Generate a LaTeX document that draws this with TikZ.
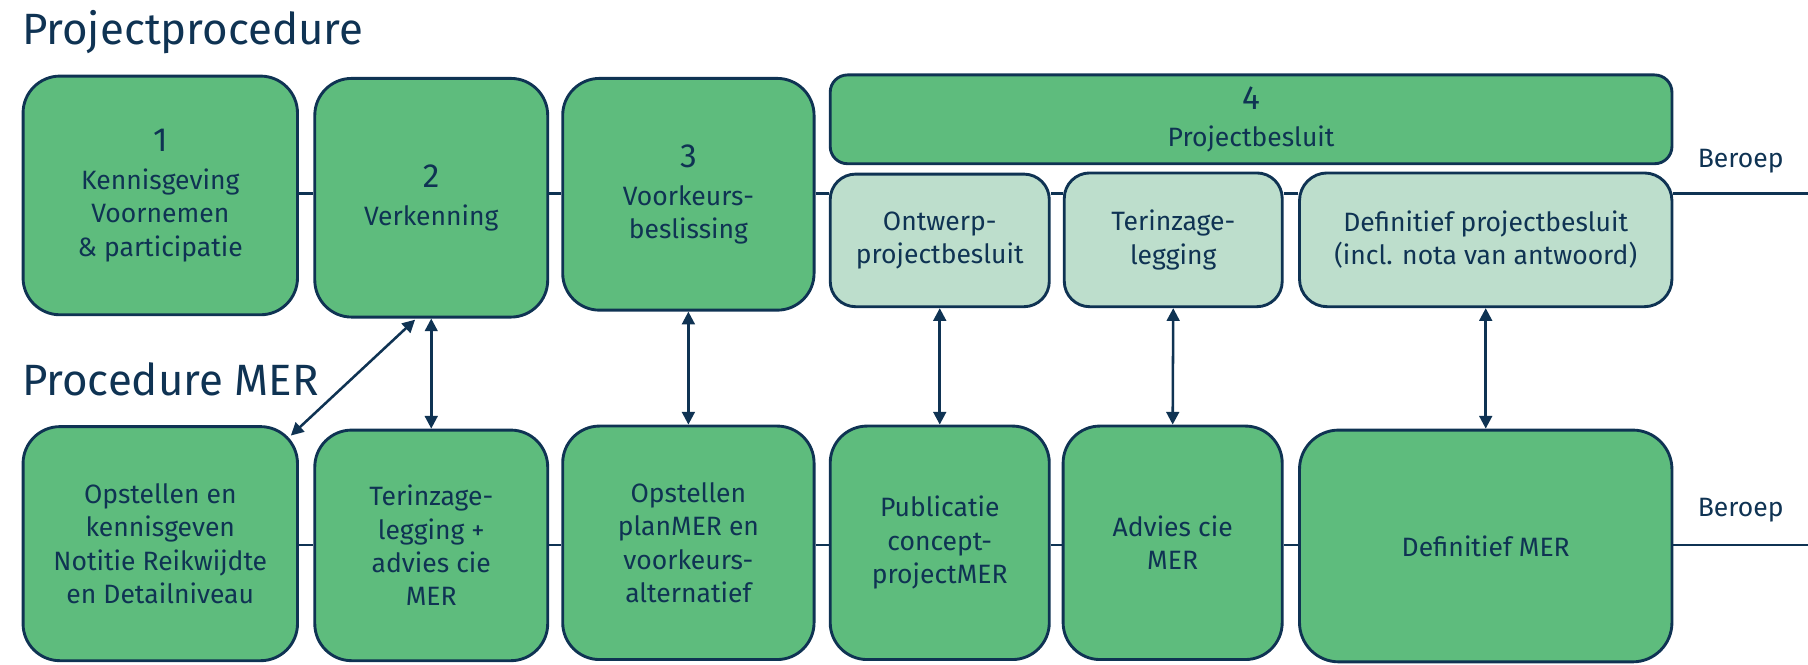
\documentclass[tikz,border=0pt]{standalone}
\usepackage{fontspec}
\setmainfont{Fira Sans}
\usetikzlibrary{arrows.meta,calc}
\definecolor{navy}{HTML}{0F3353}
\definecolor{gr}{HTML}{5EBC7D}
\definecolor{lgr}{HTML}{BDDECC}
\begin{document}
\begin{tikzpicture}[x=0.5pt,y=-0.5pt,
  bx/.style={draw=navy,line width=1.25pt,fill=gr,rounded corners=16pt,inner sep=0pt,align=center,text=navy,font=\fontsize{11.5}{14.5}\selectfont},
  lbx/.style={bx,fill=lgr,rounded corners=11pt},
  lnk/.style={draw=navy,line width=1.2pt},
  arr/.style={navy,line width=1.1pt,{Triangle[length=5.5pt,width=5.5pt]}-{Triangle[length=5.5pt,width=5.5pt]}},
  ttl/.style={text=navy,font=\fontsize{19}{22}\selectfont,inner sep=0pt,anchor=base west},
  lab/.style={text=navy,font=\fontsize{11.5}{14}\selectfont,inner sep=0pt,anchor=base west}]
\useasboundingbox (0,0) rectangle (1568,576);
\newcommand\nm[1]{{\fontsize{14.5}{14.5}\selectfont #1}}
% titles
\node[ttl] (t1) at (18.8,39) {Projectprocedure};
\node[ttl] (t2) at (18.8,342.6) {Procedure MER};
% top row
\node[bx,minimum width=119pt,minimum height=103.5pt] (p1) at (139,169.5) {\nm{1}\\[2pt]Kennisgeving\\Voornemen\\\& participatie};
\node[bx,minimum width=101pt,minimum height=103.5pt] (p2) at (374,171.5) {\nm{2}\\[2pt]Verkenning};
\node[bx,minimum width=109pt,minimum height=100.5pt] (p3) at (597,168.5) {\nm{3}\\[2pt]Voorkeurs-\\beslissing};
\node[bx,rounded corners=7.5pt,minimum width=365pt,minimum height=38.5pt] (p4) at (1085,103.5) {\nm{4}\\[1.5pt]Projectbesluit};
\node[lbx,minimum width=95pt,minimum height=57.5pt] (ontw) at (815,208.5) {Ontwerp-\\projectbesluit};
\node[lbx,minimum width=94.5pt,minimum height=58pt] (terz) at (1017.5,208) {Terinzage-\\legging};
\node[lbx,rounded corners=12pt,minimum width=161.5pt,minimum height=58pt] (defp) at (1288.5,208) {Definitief projectbesluit\\(incl. nota van antwoord)};
% bottom row
\node[bx,minimum width=119pt,minimum height=101.5pt] (bA) at (139,471.5) {Opstellen en\\kennisgeven\\Notitie Reikwijdte\\en Detailniveau};
\node[bx,minimum width=101pt,minimum height=100pt] (bB) at (374,473) {Terinzage-\\legging +\\advies cie\\MER};
\node[bx,minimum width=109pt,minimum height=101.25pt] (bC) at (597,470.75) {Opstellen\\planMER en\\voorkeurs-\\alternatief};
\node[bx,minimum width=95pt,minimum height=101.25pt] (bD) at (815,470.75) {Publicatie\\concept-\\projectMER};
\node[bx,minimum width=95pt,minimum height=101.25pt] (bE) at (1017,470.75) {Advies cie\\MER};
\node[bx,rounded corners=17pt,minimum width=161.5pt,minimum height=100.5pt] (bF) at (1288.5,473.5) {Definitief MER};
% labels
\node[lab] (ber1) at (1472,145.7) {Beroep};
\node[lab] (ber2) at (1472,448) {Beroep};
% row coordinates
\coordinate (ra) at (0,168);
\coordinate (rb) at (0,472.6);
\coordinate (ea) at (1568,168);
\coordinate (eb) at (1568,472.6);
% links top
\draw[lnk] (p1.east|-ra) -- (p2.west|-ra);
\draw[lnk] (p2.east|-ra) -- (p3.west|-ra);
\draw[lnk] (p3.east|-ra) -- (ontw.west|-ra);
\draw[lnk] (ontw.east|-ra) -- (terz.west|-ra);
\draw[lnk] (terz.east|-ra) -- (defp.west|-ra);
\draw[lnk] (defp.east|-ra) -- (ea);
% links bottom
\draw[lnk] (bA.east|-rb) -- (bB.west|-rb);
\draw[lnk] (bB.east|-rb) -- (bC.west|-rb);
\draw[lnk] (bC.east|-rb) -- (bD.west|-rb);
\draw[lnk] (bD.east|-rb) -- (bE.west|-rb);
\draw[lnk] (bE.east|-rb) -- (bF.west|-rb);
\draw[lnk] (bF.east|-rb) -- (eb);
% arrows
\draw[arr] ($(bA.north east)+(-7,9)$) -- ($(p2.south)+(-14,1)$);
\draw[arr] (p2.south) -- (bB.north);
\draw[arr] (p3.south) -- (bC.north);
\draw[arr] (ontw.south) -- (bD.north);
\draw[arr] (terz.south) -- (bE.north);
\draw[arr] (defp.south) -- (bF.north);
\end{tikzpicture}
\end{document}
